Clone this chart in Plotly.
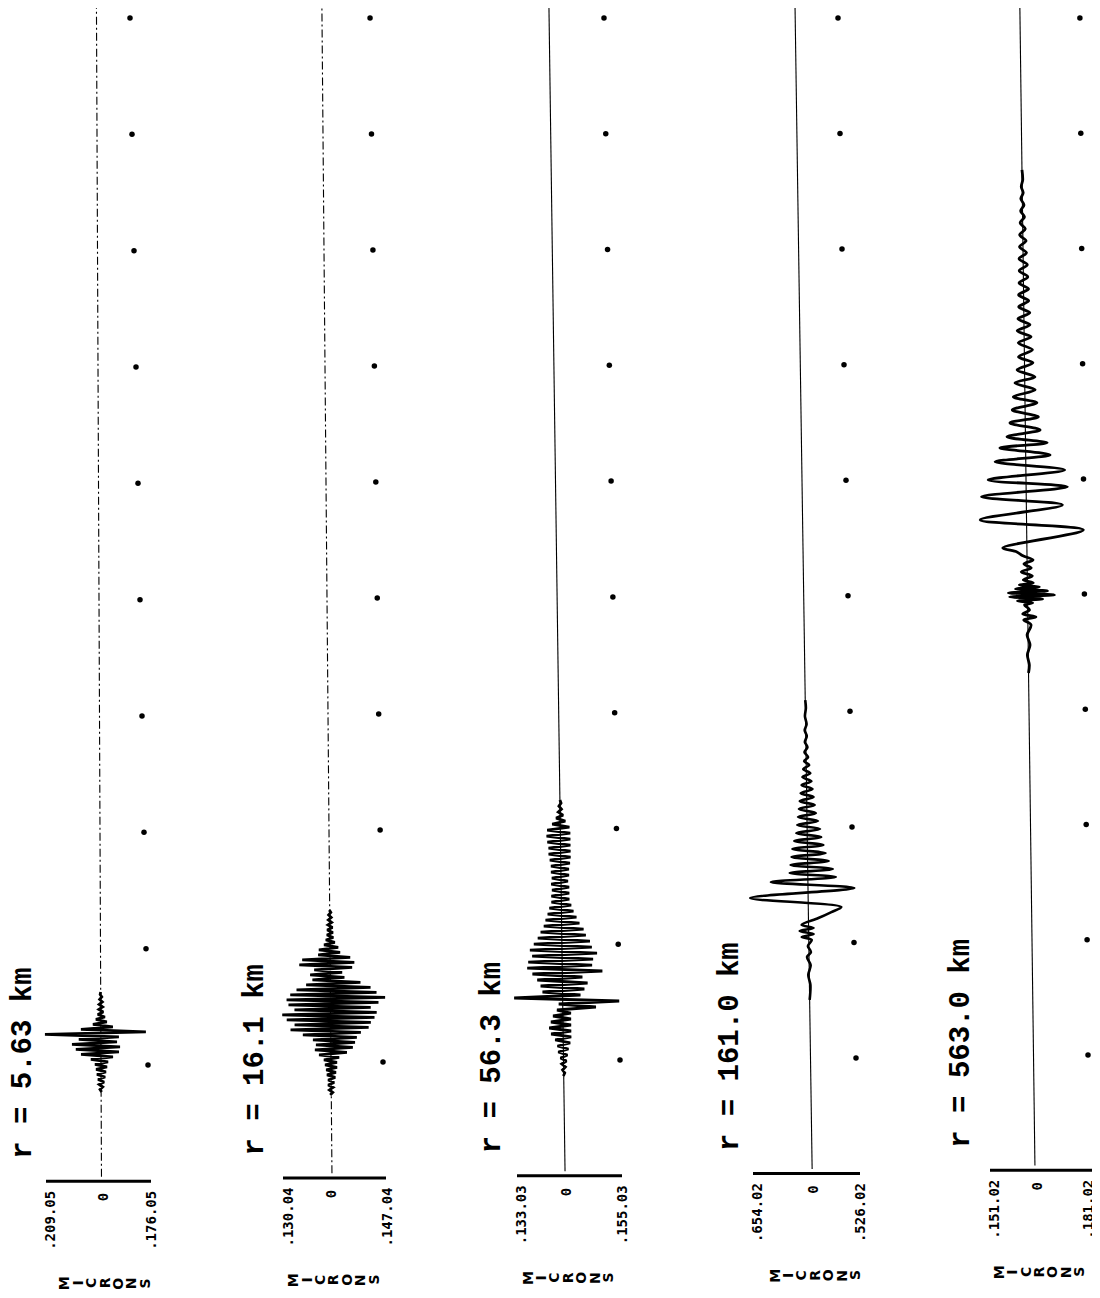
import plotly.graph_objects as go

W, H = 1100, 1298
PAGE_MARGIN = 8          # browser body margin around the plot div

# ---------------- data ----------------
DISTANCE_LABELS = ["r = 5.63 km", "r = 16.1 km", "r = 56.3 km", "r = 161.0 km", "r = 563.0 km"]
# scale-bar limits (thousandths of the printed mantissa)
SCALE_MIN = [-209, -130, -133, -654, -151]
SCALE_MAX = [176, 147, 155, 526, 181]
SCALE_MIN_TEXT = [".209.05", ".130.04", ".133.03", ".654.02", ".151.02"]
SCALE_MAX_TEXT = [".176.05", ".147.04", ".155.03", ".526.02", ".181.02"]
ZERO_TEXT = "0"
UNIT_TEXT = "MICRONS"

# timing marks (time in mark intervals)
MARKS_1 = [0, 1, 2, 3, 4, 5, 6, 7, 8, 9]
MARKS_2 = [0, 2, 3, 4, 5, 6, 7, 8, 9]
MARKS_3 = [0, 1, 2, 3, 4, 5, 6, 7, 8, 9]
MARKS_4 = [0, 1, 2, 3, 4, 5, 6, 7, 8, 9]
MARKS_5 = [0, 1, 2, 3, 4, 5, 6, 7, 8, 9]

# traces 1-3: uniformly sampled (start time, sample step, amplitude)
T1_START, T1_STEP = -0.232, 0.0215
T1_AMP = [2, -4, 6, -7, 11, -11, 15, -15, 18, -18, 22, -22, 26, -37, 44, -73, 66, -92, 70, -106,
          59, -81, 66, -205, 165, -73, 44, -29, 22, -18, 15, -11, 9, -7, 7, -6, 6, -4, 4, -2, 0]

T2_START, T2_STEP = -0.284, 0.02155
T2_AMP = [-3, 4, -5, 5, -8, 8, -8, 11, -11, 13, -13, 16, -16, 16, -19, 22, -32, 43, -43, 59,
          -40, 65, -48, 70, -75, 81, -108, 102, -97, 108, -118, 118, -130, 124, -97, 108, -113, 129, -118, 147,
          -108, 124, -91, 108, -65, 81, -48, 38, -54, 32, -43, 59, -83, 65, -75, 54, -32, 27, -30, 22,
          -16, 13, -11, 9, -8, 8, -7, 7, -5, 5, -4, 4, -3, 3, -1]

T3_START, T3_STEP = -0.138, 0.0259
T3_AMP = [-1, 3, -3, 5, -5, 8, -8, 11, -14, 14, -16, 19, -22, 22, -33, 22, -38, 22, -33, 22,
          -27, 22, -16, 91, -11, 155, -133, 49, -55, 60, -60, 69, -69, 55, -82, 110, -96, 82, -93, 85,
          -82, 96, -88, 82, -77, 77, -66, 66, -58, 60, -49, 49, -44, 41, -38, 33, -33, 27, -27, 22,
          -27, 22, -25, 22, -27, 19, -25, 22, -27, 22, -27, 25, -30, 27, -33, 27, -33, 27, -36, 27,
          -38, 27, -36, 25, -22, 14, -11, 8, -5, 4, -3, 3, 0]

T4_TIME = [0.502, 0.632, 0.718, 0.804, 0.874, 0.917, 0.969, 1.021, 1.047, 1.073,
           1.099, 1.125, 1.151, 1.211, 1.263, 1.306, 1.384, 1.471, 1.522, 1.566,
           1.600, 1.635, 1.670, 1.704, 1.739, 1.773, 1.808, 1.843, 1.877, 1.912,
           1.946, 1.981, 2.016, 2.050, 2.085, 2.119, 2.154, 2.189, 2.223, 2.258,
           2.292, 2.327, 2.362, 2.396, 2.431, 2.465, 2.500, 2.535, 2.569, 2.604,
           2.647, 2.690, 2.734, 2.785, 2.837, 2.889, 2.958, 3.028, 3.097]
T4_AMP = [0, 11, -11, 17, -22, 22, -11, 33, -77, 55,
          -99, 55, -77, 110, 254, 364, -640, 510, -408, 309,
          -199, 276, -188, 232, -176, 199, -165, 176, -143, 154,
          -121, 143, -110, 121, -99, 99, -88, 88, -77, 77,
          -66, 66, -55, 55, -44, 44, -33, 33, -22, 22,
          -17, 17, -11, 11, -11, 11, -6, 6, 0]

T5_TIME = [3.316, 3.385, 3.472, 3.559, 3.646, 3.733, 3.776, 3.802, 3.828, 3.863,
           3.906, 3.924, 3.941, 3.958, 3.976, 3.993, 4.010, 4.028, 4.045, 4.063,
           4.080, 4.097, 4.123, 4.158, 4.193, 4.227, 4.262, 4.297, 4.332, 4.366,
           4.401, 4.557, 4.644, 4.774, 4.844, 4.931, 4.991, 5.078, 5.148, 5.208,
           5.269, 5.313, 5.365, 5.425, 5.486, 5.538, 5.599, 5.660, 5.712, 5.773,
           5.833, 5.885, 5.946, 6.007, 6.059, 6.120, 6.181, 6.233, 6.285, 6.337,
           6.389, 6.441, 6.493, 6.545, 6.597, 6.649, 6.701, 6.753, 6.806, 6.858,
           6.910, 6.962, 7.014, 7.066, 7.118, 7.170, 7.222, 7.274, 7.326, 7.378,
           7.431, 7.483, 7.535, 7.595, 7.682]
T5_AMP = [0, 3, -3, 6, -3, 10, -13, 26, -16, 6,
          -10, 16, -32, 48, -57, 86, -61, 64, -38, 38,
          -26, 19, -13, 16, -19, 13, -10, 19, -13, -32,
          -77, 181, -148, 115, -143, 132, -121, 124, -98, 78,
          -82, 69, -59, 47, -49, 42, -41, 38, -37, 33,
          -31, 33, -24, 27, -19, 26, -19, 22, -22, 19,
          -19, 19, -16, 16, -16, 16, -14, 14, -13, 13,
          -13, 11, -11, 10, -10, 8, -8, 6, -6, 5,
          -5, 3, -3, 2, 0]

# ---------------- layout constants (reference pixels) ----------------
BAR_PX = [(46, 151), (283, 386), (517, 622), (753, 860), (990, 1094)]
MARK0_Y = [1065, 1062, 1060, 1058, 1055]   # pixel row of mark 0
MARK9_Y = 18                               # pixel row of mark 9
BASE_PX = [(101.0, -0.5), (331.0, -1.0), (563.5, -1.6), (810.5, -1.7), (1033.5, -1.5)]
DOT_PX = [(148, -2.0), (383, -1.44), (620, -1.78), (856, -2.0), (1088, -0.9)]
LABEL_X_PX = [24, 255, 492, 730, 962]
MAX_LABEL_SHIFT = [0, 0, 0, 0, -6]
BAR_T = -1.0
WAVE_WIDTH = [2.8, 2.8, 2.8, 2.6, 2.8]
WAVE_SHAPE = ["linear", "linear", "linear", "spline", "spline"]

FW, FH = W - PAGE_MARGIN, H - PAGE_MARGIN

traces_t = [
    [T1_START + i * T1_STEP for i in range(len(T1_AMP))],
    [T2_START + i * T2_STEP for i in range(len(T2_AMP))],
    [T3_START + i * T3_STEP for i in range(len(T3_AMP))],
    T4_TIME,
    T5_TIME,
]
traces_a = [T1_AMP, T2_AMP, T3_AMP, T4_AMP, T5_AMP]
marks = [MARKS_1, MARKS_2, MARKS_3, MARKS_4, MARKS_5]

fig = go.Figure()
layout = dict(width=FW, height=FH, margin=dict(l=0, r=0, t=0, b=0, pad=0),
              paper_bgcolor="white", plot_bgcolor="rgba(0,0,0,0)", showlegend=False)
annotations = []

for i in range(5):
    n = i + 1
    xa = "x" if n == 1 else f"x{n}"
    ya = "y" if n == 1 else f"y{n}"
    xl, xr = BAR_PX[i]
    k = (xr - xl) / (SCALE_MAX[i] - SCALE_MIN[i])      # px per unit
    zero = xl - SCALE_MIN[i] * k
    s = (MARK0_Y[i] - MARK9_Y) / 9.0                   # px per time unit
    t_top = (MARK0_Y[i] - PAGE_MARGIN) / s
    t_bot = (MARK0_Y[i] - H) / s
    b0, bd = BASE_PX[i]

    def off(t):
        return (b0 + bd * t - zero) / k

    axis_common = dict(visible=False, showgrid=False, zeroline=False, fixedrange=True)
    xkey = "xaxis" if n == 1 else f"xaxis{n}"
    ykey = "yaxis" if n == 1 else f"yaxis{n}"
    layout[xkey] = dict(range=[(PAGE_MARGIN - zero) / k, (W - zero) / k], domain=[0, 1],
                        anchor=ya, **axis_common)
    layout[ykey] = dict(range=[t_bot, t_top], domain=[0, 1], anchor=xa, **axis_common)
    if n > 1:
        layout[xkey]["overlaying"] = "x"
        layout[ykey]["overlaying"] = "y"

    # baseline of the record
    tb = [BAR_T + 0.04, t_top]
    fig.add_trace(go.Scatter(x=[off(t) for t in tb], y=tb, xaxis=xa, yaxis=ya, mode="lines",
                             line=dict(color="black", width=1.1,
                                       dash="8px,3px,2px,3px" if i < 2 else "solid"),
                             hoverinfo="skip"))
    # waveform
    tt = traces_t[i]
    aa = traces_a[i]
    fig.add_trace(go.Scatter(x=[a + off(t) for a, t in zip(aa, tt)], y=tt, xaxis=xa, yaxis=ya,
                             mode="lines",
                             line=dict(color="black", width=WAVE_WIDTH[i], shape=WAVE_SHAPE[i],
                                       smoothing=0.9 if WAVE_SHAPE[i] == "spline" else None),
                             hoverinfo="skip"))
    # timing marks
    d0, dd = DOT_PX[i]
    fig.add_trace(go.Scatter(x=[(d0 + dd * m - zero) / k for m in marks[i]], y=marks[i],
                             xaxis=xa, yaxis=ya, mode="markers",
                             marker=dict(color="black", size=5.5), hoverinfo="skip"))
    # scale bar
    fig.add_trace(go.Scatter(x=[SCALE_MIN[i], SCALE_MAX[i]], y=[BAR_T, BAR_T], xaxis=xa, yaxis=ya,
                             mode="lines", line=dict(color="black", width=3), hoverinfo="skip"))

    tick_font = dict(family="DejaVu Sans Mono", size=14, color="black")
    annotations.append(dict(x=SCALE_MIN[i], y=BAR_T, xref=xa, yref=ya, text="<b>%s</b>" % SCALE_MIN_TEXT[i],
                            textangle=-90, showarrow=False, xanchor="center", yanchor="top",
                            xshift=4, yshift=-8, font=tick_font))
    annotations.append(dict(x=0, y=BAR_T, xref=xa, yref=ya, text="<b>%s</b>" % ZERO_TEXT,
                            textangle=-90, showarrow=False, xanchor="center", yanchor="top",
                            yshift=-10, font=tick_font))
    annotations.append(dict(x=SCALE_MAX[i], y=BAR_T, xref=xa, yref=ya, text="<b>%s</b>" % SCALE_MAX_TEXT[i],
                            textangle=-90, showarrow=False, xanchor="center", yanchor="top",
                            xshift=MAX_LABEL_SHIFT[i], yshift=-8, font=tick_font))
    for j, ch in enumerate(UNIT_TEXT):
        annotations.append(dict(x=0, y=BAR_T, xref=xa, yref=ya, text="<b>%s</b>" % ch,
                                textangle=-90, showarrow=False, xanchor="center", yanchor="middle",
                                xshift=2 + (j - 3) * 13.4, yshift=-102,
                                font=dict(family="DejaVu Sans", size=14, color="black")))
    annotations.append(dict(x=(LABEL_X_PX[i] - zero) / k, y=BAR_T, xref=xa, yref=ya,
                            text="<b>%s</b>" % DISTANCE_LABELS[i], textangle=-90, showarrow=False,
                            xanchor="center", yanchor="bottom", yshift=20,
                            font=dict(family="Liberation Mono", size=29, color="black")))

layout["annotations"] = annotations
fig.update_layout(**layout)
fig.write_html("out.html")
